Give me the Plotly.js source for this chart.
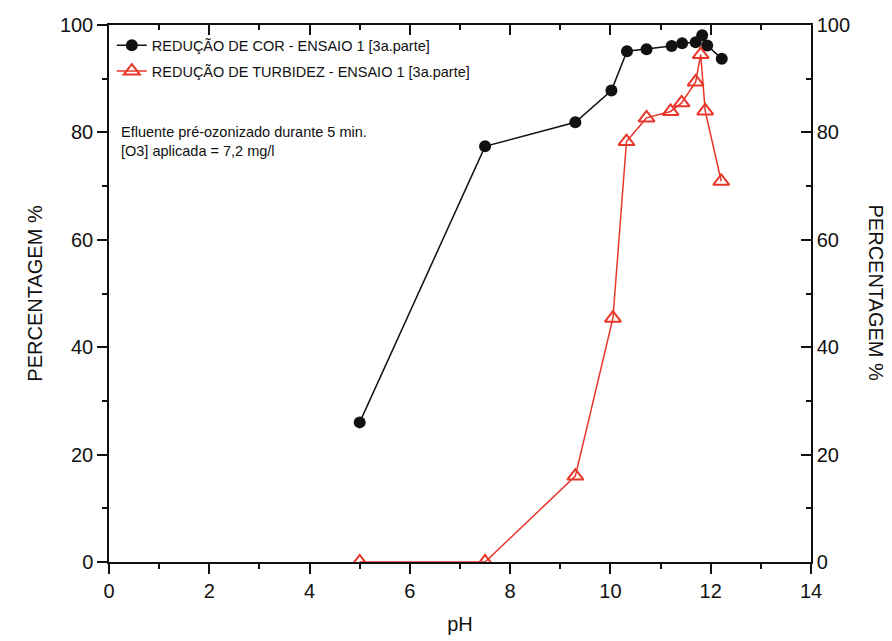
<!DOCTYPE html>
<html><head><meta charset="utf-8">
<script src="https://cdn.plot.ly/plotly-3.0.1.min.js"></script>
<style>html,body{margin:0;padding:0;background:#fff}#chart{width:892px;height:641px}</style>
</head><body><div id="chart"></div>
<script>
const corPH = [5.0, 7.5, 9.3, 10.02, 10.33, 10.72, 11.22, 11.43, 11.70, 11.83, 11.93, 12.22];
const corPct = [26.0, 77.4, 81.9, 87.8, 95.1, 95.5, 96.1, 96.6, 96.8, 98.1, 96.2, 93.7];
const turbPH = [5.0, 7.5, 9.3, 10.05, 10.32, 10.72, 11.20, 11.42, 11.70, 11.80, 11.89, 12.21];
const turbPct = [0.0, 0.0, 16.0, 45.4, 78.3, 82.7, 83.9, 85.5, 89.4, 94.5, 84.0, 70.9];
const nameCor = 'REDUÇÃO DE COR - ENSAIO 1 [3a.parte]';
const nameTurb = 'REDUÇÃO DE TURBIDEZ - ENSAIO 1 [3a.parte]';
const noteLines = ['Efluente pré-ozonizado durante 5 min.', '[O3] aplicada = 7,2 mg/l'];
const yTitle = 'PERCENTAGEM %';
const xTitle = 'pH';

const FONT = 'Liberation Sans, Arial, sans-serif';
const RED = '#e8362a';
const traces = [
  {x: corPH, y: corPct, name: nameCor, type: 'scatter', mode: 'lines+markers', legendgroup: 'a',
   line: {color: '#111', width: 1.5}, marker: {symbol: 'circle', size: 12, color: '#111'}},
  {x: turbPH, y: turbPct, name: nameTurb, type: 'scatter', mode: 'lines+markers', yaxis: 'y2', legendgroup: 'b',
   line: {color: RED, width: 1.5}, marker: {symbol: 'triangle-up-open', size: 14, color: RED, line: {width: 2, color: RED}}}
];
const tickFont = {family: FONT, size: 20, color: '#111'};
function ax(extra) {
  return Object.assign({showline: true, linecolor: '#111', linewidth: 1.5, showgrid: false, zeroline: false,
    tickcolor: '#111', tickwidth: 1.5}, extra);
}
const layout = {
  width: 892, height: 641,
  margin: {l: 109, r: 81, t: 25, b: 79},
  paper_bgcolor: '#fff', plot_bgcolor: '#fff',
  showlegend: true,
  legend: {x: 0.004, y: 0.992, xanchor: 'left', yanchor: 'top', bgcolor: 'rgba(0,0,0,0)', traceorder: 'grouped',
           font: {family: FONT, size: 14.5, color: '#111'}, tracegroupgap: 4},
  xaxis: ax({range: [0, 14], dtick: 2, ticks: 'outside', ticklen: 10, tickfont: tickFont,
          title: {text: xTitle, font: {family: FONT, size: 20, color: '#111'}, standoff: 16}}),
  xaxis2: ax({range: [0, 14], dtick: 1, overlaying: 'x', side: 'bottom', anchor: 'y', ticks: 'outside', ticklen: 5, showticklabels: false}),
  xaxis3: ax({range: [0, 14], dtick: 1, overlaying: 'x', side: 'top', anchor: 'y', ticks: 'inside', ticklen: 5, showticklabels: false}),
  xaxis4: ax({range: [0, 14], dtick: 2, overlaying: 'x', side: 'top', anchor: 'y', ticks: 'inside', ticklen: 10, showticklabels: false}),
  yaxis: ax({range: [0, 100], dtick: 20, ticks: 'outside', ticklen: 10, tickfont: tickFont,
          title: {text: yTitle, font: {family: FONT, size: 20, color: '#111'}, standoff: 12}}),
  yaxis2: ax({range: [0, 100], dtick: 20, overlaying: 'y', side: 'right', anchor: 'x', ticks: 'inside', ticklen: 10, tickfont: tickFont}),
  yaxis3: ax({range: [0, 100], dtick: 10, overlaying: 'y', side: 'left', anchor: 'x', ticks: 'outside', ticklen: 5, showticklabels: false}),
  yaxis4: ax({range: [0, 100], dtick: 10, overlaying: 'y', side: 'right', anchor: 'x', ticks: 'inside', ticklen: 5, showticklabels: false}),
  annotations: [
    {xref: 'paper', yref: 'paper', x: 0.014, y: 0.82, xanchor: 'left', yanchor: 'top', showarrow: false, align: 'left',
     text: noteLines.join('<br>'), font: {family: FONT, size: 14.5, color: '#111'}},
    {xref: 'paper', yref: 'paper', x: 1.094, y: 0.5, xanchor: 'center', yanchor: 'middle', showarrow: false,
     textangle: 90, text: yTitle, font: {family: FONT, size: 20, color: '#111'}}
  ]
};
[['x2','y'],['x3','y'],['x4','y'],['x','y3'],['x','y4']].forEach(p =>
  traces.push({x: [null], y: [null], xaxis: p[0], yaxis: p[1], showlegend: false, hoverinfo: 'skip', mode: 'lines'}));
Plotly.newPlot('chart', traces, layout, {displayModeBar: false});
</script></body></html>
